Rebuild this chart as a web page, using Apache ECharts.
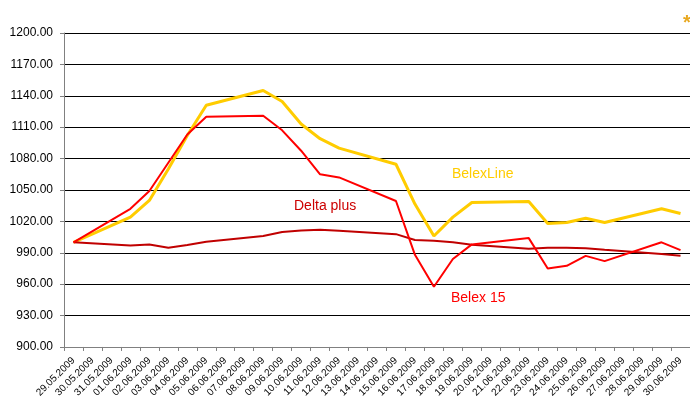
<!DOCTYPE html>
<html>
<head>
<meta charset="utf-8">
<script src="https://cdn.jsdelivr.net/npm/echarts@6/dist/echarts.min.js"></script>
<style>
html,body{margin:0;padding:0;background:#fff;}
#main{width:690px;height:400px;}
</style>
</head>
<body>
<div id="main"></div>
<script>
const categories = ['29.05.2009','30.05.2009','31.05.2009','01.06.2009','02.06.2009','03.06.2009','04.06.2009','05.06.2009','06.06.2009','07.06.2009','08.06.2009','09.06.2009','10.06.2009','11.06.2009','12.06.2009','13.06.2009','14.06.2009','15.06.2009','16.06.2009','17.06.2009','18.06.2009','19.06.2009','20.06.2009','21.06.2009','22.06.2009','23.06.2009','24.06.2009','25.06.2009','26.06.2009','27.06.2009','28.06.2009','29.06.2009','30.06.2009'];

const belexLine = [1000,null,null,1024,1040,1070,1102,1131,null,null,1145,1134.5,1113,1099,1090,null,null,1074.6,1036.5,1006,1024,1038,null,null,1039,1018,1019,1023,1019,null,null,1032,1027.5];

const belex15 = [1000,null,null,1032,1049,1076,1103,1120,null,null,1121,1107,1087.5,1065,1062,null,null,1039.5,988,957.5,984,998,null,null,1004,975,977.5,987,982,null,null,1000,992.5];

const deltaPlus = [1000,null,null,997,998,994.8,997.5,1000.5,null,null,1006,1009.8,1011.3,1012,1011,null,null,1007.8,1002.2,1001.5,1000,997.7,null,null,993.8,994.7,994.8,994.2,992.8,null,null,988.8,987.1];

const yMin = 900, yMax = 1200, yStep = 30;

const FONT = "'Liberation Sans', Arial, sans-serif";
const chart = echarts.init(document.getElementById('main'), null, {renderer:'canvas'});
chart.setOption({
  animation: false,
  backgroundColor: '#fff',
  textStyle: {fontFamily: FONT},
  grid: {left: 64, top: 33, width: 629, height: 314, containLabel: false},
  xAxis: {
    type: 'category',
    data: categories,
    boundaryGap: true,
    axisLine: {show: true, lineStyle: {color: '#808080', width: 1}},
    axisTick: {show: true, interval: 0, length: 4, lineStyle: {color: '#808080'}},
    axisLabel: {interval: 0, rotate: 45, fontSize: 10, color: '#000', margin: 12, fontFamily: FONT},
    splitLine: {show: false}
  },
  yAxis: {
    type: 'value',
    min: yMin, max: yMax, interval: yStep,
    axisLine: {show: true, lineStyle: {color: '#808080', width: 1}},
    axisTick: {show: true, length: 4, lineStyle: {color: '#808080'}},
    axisLabel: {fontSize: 12, color: '#000', margin: 11, fontFamily: FONT,
      formatter: v => v.toFixed(2)},
    splitLine: {show: true, lineStyle: {color: '#000', width: 1}}
  },
  series: [
    {name: 'BelexLine', type: 'line', data: belexLine, connectNulls: true, symbol: 'none',
     lineStyle: {color: '#FFCC00', width: 3}, itemStyle: {color: '#FFCC00'}, z: 2},
    {name: 'Delta plus', type: 'line', data: deltaPlus, connectNulls: true, symbol: 'none',
     lineStyle: {color: '#C00000', width: 2}, itemStyle: {color: '#C00000'}, z: 3},
    {name: 'Belex 15', type: 'line', data: belex15, connectNulls: true, symbol: 'none',
     lineStyle: {color: '#FF0000', width: 2}, itemStyle: {color: '#FF0000'}, z: 4}
  ],
  graphic: [
    {type: 'text', left: 452, top: 167, style: {text: 'BelexLine', fill: '#FFCC00', font: "14px 'Liberation Sans', Arial"}},
    {type: 'text', left: 294, top: 199, style: {text: 'Delta plus', fill: '#CC0000', font: "14px 'Liberation Sans', Arial"}},
    {type: 'text', left: 451, top: 291, style: {text: 'Belex 15', fill: '#FF0000', font: "14px 'Liberation Sans', Arial"}},
    {type: 'text', left: 683, top: 13, style: {text: '*', fill: '#E8A820', font: "bold 20px 'Liberation Sans', Arial"}}
  ]
});
</script>
</body>
</html>
